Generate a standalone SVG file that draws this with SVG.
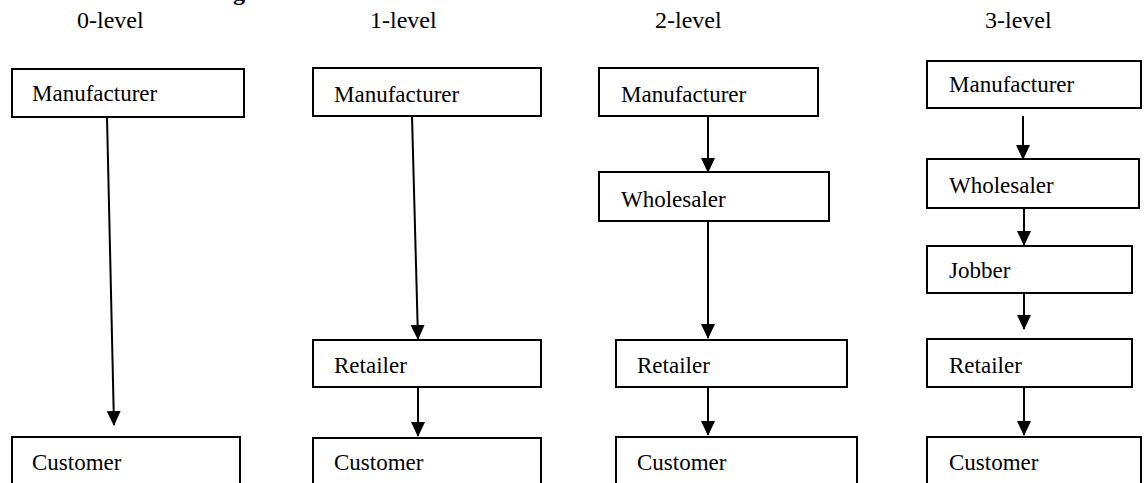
<svg xmlns="http://www.w3.org/2000/svg" width="1144" height="483" viewBox="0 0 1144 483">
<style>
.box{fill:#fff;stroke:#000;stroke-width:2}
.t{font-family:"Liberation Serif","Times New Roman",serif;font-size:23px;fill:#000}
.h{font-family:"Liberation Serif","Times New Roman",serif;font-size:24px;fill:#000}
.c{stroke:#000;stroke-width:2;fill:none;marker-end:url(#ah)}
</style>
<defs>
<marker id="ah" markerWidth="16" markerHeight="16" refX="14" refY="7" orient="auto" markerUnits="userSpaceOnUse">
<path d="M0,0 L15,7 L0,14 Z" fill="#000"/>
</marker>
</defs>
<text class="h" x="233" y="0" font-weight="bold">g</text>
<g id="labels">
<text class="h" x="77" y="28">0-level</text>
<text class="h" x="370" y="28">1-level</text>
<text class="h" x="655" y="28">2-level</text>
<text class="h" x="985" y="28">3-level</text>
</g>
<g id="connectors">
<path class="c" d="M107,117 L114,425"/>
<path class="c" d="M412,116 L418,339"/>
<path class="c" d="M418,387 L418,436"/>
<path class="c" d="M708,107 L708,172"/>
<path class="c" d="M708,221 L708,338"/>
<path class="c" d="M708,387 L708,435"/>
<path class="c" d="M1023,116 L1023,159"/>
<path class="c" d="M1024,208 L1024,245"/>
<path class="c" d="M1024,293 L1024,329"/>
<path class="c" d="M1024,387 L1024,435"/>
</g>
<g id="c0-manufacturer"><rect class="box" x="12" y="69" width="232" height="48"/><text class="t" x="32" y="101">Manufacturer</text></g>
<g id="c0-customer"><rect class="box" x="12" y="437" width="228" height="60"/><text class="t" x="32" y="470">Customer</text></g>
<g id="c1-manufacturer"><rect class="box" x="313" y="68" width="228" height="48"/><text class="t" x="334" y="102">Manufacturer</text></g>
<g id="c1-retailer"><rect class="box" x="313" y="340" width="228" height="47"/><text class="t" x="334" y="373">Retailer</text></g>
<g id="c1-customer"><rect class="box" x="313" y="438" width="228" height="60"/><text class="t" x="334" y="470">Customer</text></g>
<g id="c2-manufacturer"><rect class="box" x="599" y="68" width="219" height="48"/><text class="t" x="621" y="102">Manufacturer</text></g>
<g id="c2-wholesaler"><rect class="box" x="599" y="172" width="230" height="49"/><text class="t" x="621" y="207">Wholesaler</text></g>
<g id="c2-retailer"><rect class="box" x="616" y="340" width="231" height="47"/><text class="t" x="637" y="373">Retailer</text></g>
<g id="c2-customer"><rect class="box" x="616" y="437" width="241" height="60"/><text class="t" x="637" y="470">Customer</text></g>
<g id="c3-manufacturer"><rect class="box" x="927" y="61" width="214" height="47"/><text class="t" x="949" y="92">Manufacturer</text></g>
<g id="c3-wholesaler"><rect class="box" x="927" y="159" width="212" height="49"/><text class="t" x="949" y="193">Wholesaler</text></g>
<g id="c3-jobber"><rect class="box" x="927" y="246" width="205" height="47"/><text class="t" x="949" y="278">Jobber</text></g>
<g id="c3-retailer"><rect class="box" x="927" y="339" width="205" height="48"/><text class="t" x="949" y="373">Retailer</text></g>
<g id="c3-customer"><rect class="box" x="927" y="437" width="214" height="60"/><text class="t" x="949" y="470">Customer</text></g>
</svg>
